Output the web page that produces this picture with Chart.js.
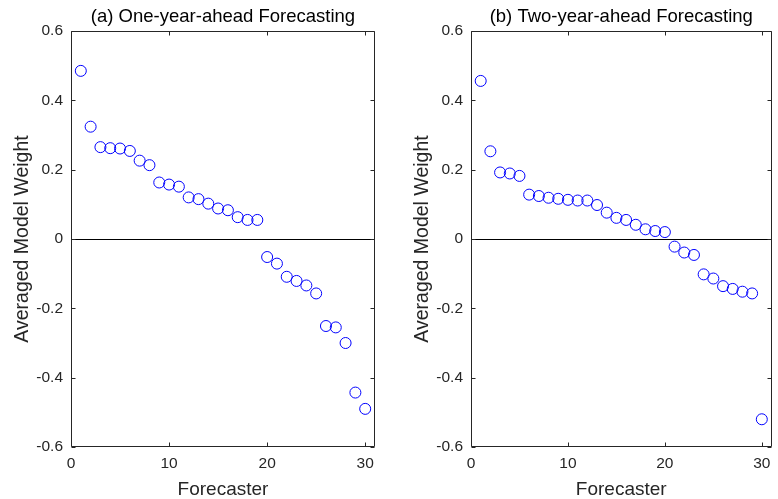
<!DOCTYPE html>
<html>
<head>
<meta charset="utf-8">
<script src="https://cdn.jsdelivr.net/npm/chart.js@4/dist/chart.umd.min.js"></script>
<style>
  html, body { margin: 0; padding: 0; background: #ffffff; }
  #wrap { position: relative; width: 778px; height: 499px; overflow: hidden; }
  canvas { position: absolute; top: 0; }
</style>
</head>
<body>
<div id="wrap">
  <canvas id="c1" width="400" height="499" style="left:0px"></canvas>
  <canvas id="c2" width="378" height="499" style="left:400px"></canvas>
</div>
<script>
// ---- data ----
const forecasters = [1,2,3,4,5,6,7,8,9,10,11,12,13,14,15,16,17,18,19,20,21,22,23,24,25,26,27,28,29,30];
const oneYearWeights = [0.485,0.324,0.265,0.262,0.261,0.254,0.226,0.213,0.163,0.157,0.151,0.120,0.115,0.102,0.088,0.083,0.063,0.055,0.055,
  -0.052,-0.071,-0.109,-0.121,-0.134,-0.157,-0.251,-0.255,-0.300,-0.443,-0.490];
const twoYearWeights = [0.456,0.253,0.192,0.189,0.182,0.128,0.124,0.119,0.116,0.113,0.111,0.111,0.098,0.076,0.061,0.055,0.041,0.028,0.023,0.020,
  -0.022,-0.039,-0.046,-0.102,-0.114,-0.136,-0.144,-0.152,-0.157,-0.520];
const xTickValues = [0,10,20,30];
const xTickLabels = ['0','10','20','30'];
const yTickValues = [0.6,0.4,0.2,0,-0.2,-0.4,-0.6];
const yTickLabels = ['0.6','0.4','0.2','0','-0.2','-0.4','-0.6'];
const panelTitles = ['(a) One-year-ahead Forecasting', '(b) Two-year-ahead Forecasting'];

const FONT = 'Liberation Sans, Arial, Helvetica, sans-serif';
const AXIS_COLOR = '#262626';

const framePlugin = {
  id: 'frame',
  afterDatasetsDraw(chart) {
    const ctx = chart.ctx;
    const a = chart.chartArea;
    const xs = chart.scales.x, ys = chart.scales.y;
    ctx.save();
    // zero reference line
    const y0 = Math.round(ys.getPixelForValue(0)) + 0.5;
    ctx.strokeStyle = '#000000';
    ctx.lineWidth = 1;
    ctx.beginPath();
    ctx.moveTo(a.left, y0); ctx.lineTo(a.right, y0);
    ctx.stroke();
    // box
    ctx.strokeStyle = AXIS_COLOR;
    const L = Math.round(a.left) + 0.5, R = Math.round(a.right) - 0.5;
    const T = Math.round(a.top) + 0.5, B = Math.round(a.bottom) - 0.5;
    ctx.beginPath();
    ctx.rect(L, T, R - L, B - T);
    ctx.stroke();
    // inward ticks on all sides
    const tl = 4;
    ctx.beginPath();
    xTickValues.forEach(v => {
      const px = Math.round(xs.getPixelForValue(v)) + 0.5;
      ctx.moveTo(px, B); ctx.lineTo(px, B - tl);
      ctx.moveTo(px, T); ctx.lineTo(px, T + tl);
    });
    yTickValues.forEach(v => {
      const py = Math.round(ys.getPixelForValue(v)) + 0.5;
      ctx.moveTo(L, py); ctx.lineTo(L + tl, py);
      ctx.moveTo(R, py); ctx.lineTo(R - tl, py);
    });
    ctx.stroke();
    ctx.restore();
  }
};

function makeChart(id, title, values, rightPad) {
  const points = forecasters.map((f, i) => ({ x: f, y: values[i] }));
  return new Chart(document.getElementById(id), {
    type: 'scatter',
    data: {
      datasets: [{
        data: points,
        showLine: false,
        pointStyle: 'circle',
        pointRadius: 5.5,
        pointHoverRadius: 5.5,
        pointBorderWidth: 1,
        pointBorderColor: '#0000ff',
        pointBackgroundColor: 'rgba(0,0,0,0)'
      }]
    },
    options: {
      responsive: false,
      devicePixelRatio: 1,
      animation: false,
      events: [],
      layout: { padding: { left: 0, right: rightPad, top: 0, bottom: 0 } },
      plugins: {
        legend: { display: false },
        tooltip: { enabled: false },
        title: {
          display: true,
          text: title,
          fullSize: false,
          color: '#000000',
          font: { family: FONT, size: 18.5, weight: 'normal' },
          padding: { top: 6, bottom: 2.8 }
        }
      },
      scales: {
        x: {
          type: 'linear',
          min: 0, max: 31,
          afterBuildTicks: s => { s.ticks = xTickValues.map(v => ({ value: v })); },
          afterFit: s => { s.height = 52; },
          grid: { display: false, drawTicks: false },
          border: { display: false },
          ticks: {
            padding: 7,
            color: AXIS_COLOR,
            font: { family: FONT, size: 15.5 },
            maxRotation: 0,
            callback: (v) => xTickLabels[xTickValues.indexOf(v)]
          },
          title: {
            display: true,
            text: 'Forecaster',
            color: AXIS_COLOR,
            font: { family: FONT, size: 19 },
            padding: { top: 0, bottom: -2 }
          }
        },
        y: {
          type: 'linear',
          min: -0.6, max: 0.6,
          afterBuildTicks: s => { s.ticks = yTickValues.map(v => ({ value: v })); },
          afterFit: s => { s.width = 71; },
          grid: { display: false, drawTicks: false },
          border: { display: false },
          ticks: {
            padding: 8,
            color: AXIS_COLOR,
            font: { family: FONT, size: 15.5 },
            callback: (v) => yTickLabels[yTickValues.findIndex(t => Math.abs(t - v) < 1e-9)]
          },
          title: {
            display: true,
            text: 'Averaged Model Weight',
            color: AXIS_COLOR,
            font: { family: FONT, size: 19.5 },
            padding: { top: 11, bottom: 0 }
          }
        }
      }
    },
    plugins: [framePlugin]
  });
}

makeChart('c1', panelTitles[0], oneYearWeights, 25);
makeChart('c2', panelTitles[1], twoYearWeights, 3);
</script>
</body>
</html>
